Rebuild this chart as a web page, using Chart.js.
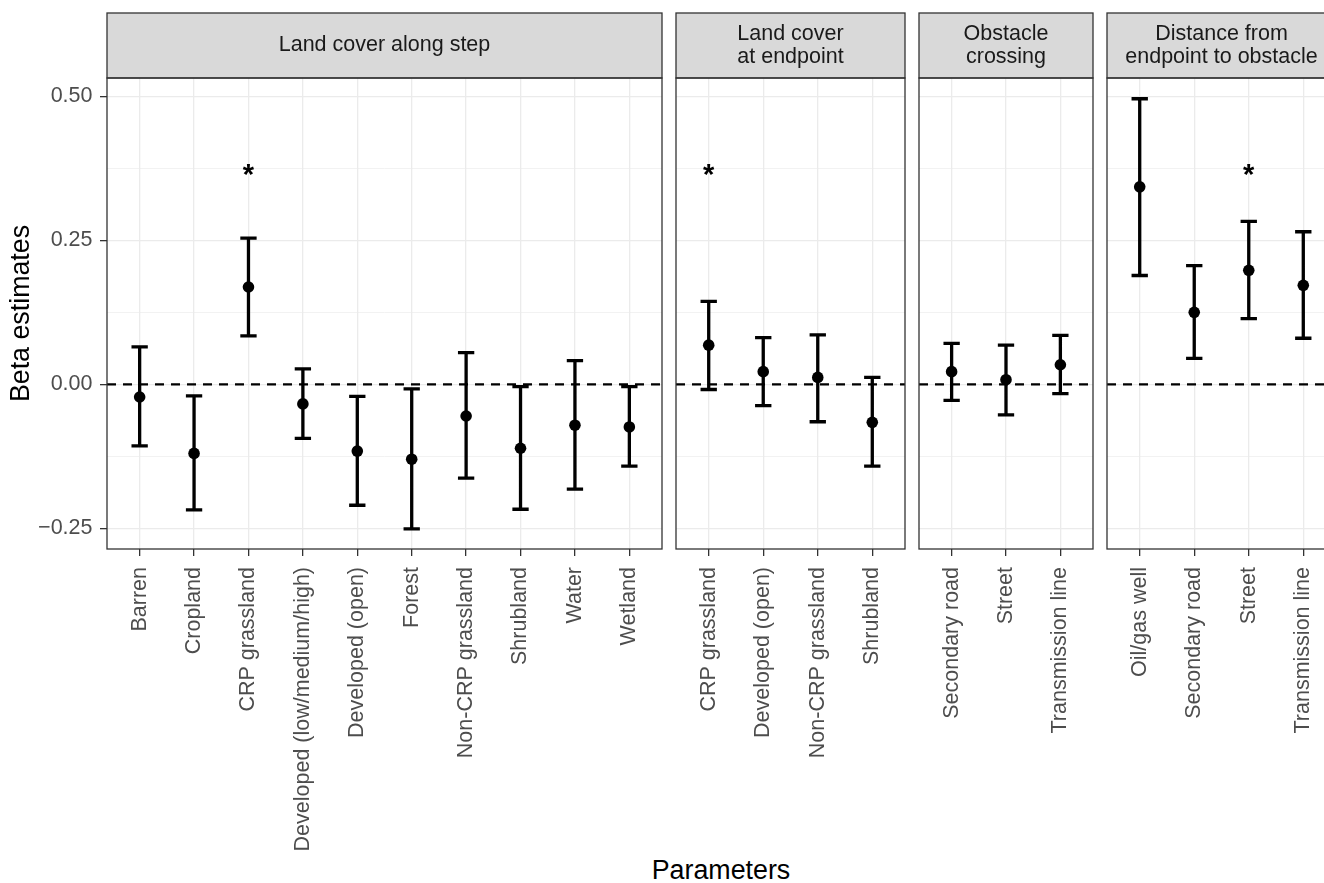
<!DOCTYPE html>
<html lang="en">
<head>
  <meta charset="UTF-8">
  <title>Beta estimates by parameter</title>
  <script src="https://cdn.jsdelivr.net/npm/chart.js@4"></script>
  <style>
    html, body {
      margin: 0;
      padding: 0;
      background: #fff;
      overflow: hidden;
    }
    body {
      width: 1324px;
      height: 883px;
      position: relative;
      font-family: 'Liberation Sans', Arial, sans-serif;
    }
    canvas.panel {
      position: absolute;
      top: 0;
    }
    /* x axis title shared by all panels */
    #xTitle {
      position: absolute;
      left: 521px;
      width: 400px;
      top: 855px;
      text-align: center;
      font-size: 26.8px;
      line-height: 30px;
      color: #000;
    }
  </style>
</head>
<body>

  <div id="xTitle">Parameters</div>

  <script>
    // ---- data ----
    const stepLabels = ['Barren', 'Cropland', 'CRP grassland', 'Developed (low/medium/high)', 'Developed (open)',
                        'Forest', 'Non-CRP grassland', 'Shrubland', 'Water', 'Wetland'];
    const stepEst = [-0.022, -0.120, 0.169, -0.034, -0.116, -0.130, -0.055, -0.111, -0.071, -0.074];
    const stepLo  = [-0.107, -0.218, 0.084, -0.094, -0.210, -0.251, -0.163, -0.217, -0.182, -0.142];
    const stepHi  = [ 0.065, -0.020, 0.254,  0.027, -0.021, -0.008,  0.055, -0.004,  0.041, -0.004];
    const stepSig = [false, false, true, false, false, false, false, false, false, false];

    const endLabels = ['CRP grassland', 'Developed (open)', 'Non-CRP grassland', 'Shrubland'];
    const endEst = [0.068, 0.022, 0.012, -0.066];
    const endLo  = [-0.009, -0.037, -0.065, -0.142];
    const endHi  = [0.144, 0.081, 0.086, 0.012];
    const endSig = [true, false, false, false];

    const crossLabels = ['Secondary road', 'Street', 'Transmission line'];
    const crossEst = [0.022, 0.008, 0.034];
    const crossLo  = [-0.028, -0.053, -0.016];
    const crossHi  = [0.071, 0.068, 0.085];
    const crossSig = [false, false, false];

    const distLabels = ['Oil/gas well', 'Secondary road', 'Street', 'Transmission line'];
    const distEst = [0.343, 0.125, 0.198, 0.172];
    const distLo  = [0.189, 0.045, 0.114, 0.080];
    const distHi  = [0.496, 0.206, 0.283, 0.265];
    const distSig = [false, false, true, false];

    const starY = 0.372;         // height of the significance marks
    const yMajor = [-0.25, 0, 0.25, 0.5];
    const yMajorLabels = ['\u22120.25', '0.00', '0.25', '0.50'];
    const yMinor = [-0.125, 0.125, 0.375];
    const yMin = -0.286, yMax = 0.532;

    // ---- look ----
    const FONT = "'Liberation Sans', Arial, sans-serif";
    Chart.defaults.font.family = FONT;
    const TEXT_SIZE = 21.5;
    const CANVAS_H = 883;
    const capWidth = 0.3;        // errorbar cap width in category units

    function isMajor(v) {
      return yMajor.some(m => Math.abs(m - v) < 1e-9);
    }

    // errorbars, stars, strip box and panel border for one panel
    function decor(lo, hi, sig) {
      return {
        id: 'decor',
        beforeDraw(chart) {
          const {ctx, chartArea} = chart;
          const t = chart.titleBlock;
          ctx.save();
          ctx.fillStyle = '#D9D9D9';
          ctx.fillRect(chartArea.left, t.top, chartArea.right - chartArea.left, t.bottom - t.top);
          ctx.restore();
        },
        beforeDatasetDraw(chart, args) {
          if (args.index !== 0) return;
          const {ctx, scales: {x, y}} = chart;
          ctx.save();
          ctx.strokeStyle = '#000';
          ctx.lineWidth = 3.3;
          ctx.beginPath();
          lo.forEach((l, i) => {
            const px = x.getPixelForValue(i);
            const x0 = x.getPixelForValue(i - capWidth / 2);
            const x1 = x.getPixelForValue(i + capWidth / 2);
            const yl = y.getPixelForValue(l);
            const yh = y.getPixelForValue(hi[i]);
            ctx.moveTo(px, yl); ctx.lineTo(px, yh);
            ctx.moveTo(x0, yl); ctx.lineTo(x1, yl);
            ctx.moveTo(x0, yh); ctx.lineTo(x1, yh);
          });
          ctx.stroke();
          ctx.restore();
        },
        afterDatasetsDraw(chart) {
          const {ctx, scales: {x, y}} = chart;
          ctx.save();
          ctx.fillStyle = '#000';
          ctx.font = 'bold 29px ' + FONT;
          ctx.textAlign = 'center';
          ctx.textBaseline = 'alphabetic';
          const m = ctx.measureText('*');
          const shift = (m.actualBoundingBoxAscent - m.actualBoundingBoxDescent) / 2;
          sig.forEach((s, i) => {
            if (!s) return;
            ctx.fillText('*', x.getPixelForValue(i), y.getPixelForValue(starY) + shift);
          });
          ctx.restore();
        },
        afterDraw(chart) {
          const {ctx, chartArea} = chart;
          const t = chart.titleBlock;
          ctx.save();
          ctx.strokeStyle = '#333333';
          ctx.lineWidth = 1.3;
          ctx.strokeRect(chartArea.left, t.top, chartArea.right - chartArea.left, t.bottom - t.top);
          ctx.strokeRect(chartArea.left, chartArea.top, chartArea.right - chartArea.left, chartArea.bottom - chartArea.top);
          ctx.restore();
        }
      };
    }

    function makePanel(p) {
      const canvas = document.createElement('canvas');
      canvas.className = 'panel';
      canvas.width = p.width;
      canvas.height = CANVAS_H;
      canvas.style.left = p.left + 'px';
      document.body.appendChild(canvas);

      const n = p.labels.length;
      const lh = 1.05;
      const titlePad = (65 - p.title.length * TEXT_SIZE * lh) / 2;

      new Chart(canvas, {
        type: 'scatter',
        data: {
          datasets: [
            {
              data: p.est.map((v, i) => ({x: i, y: v})),
              pointRadius: 5.8,
              pointBackgroundColor: '#000',
              pointBorderWidth: 0
            },
            {
              type: 'line',
              data: [{x: -0.6, y: 0}, {x: n - 0.4, y: 0}],
              borderColor: '#000',
              borderWidth: 2.2,
              borderDash: [9, 7],
              pointRadius: 0
            }
          ]
        },
        options: {
          responsive: false,
          animation: false,
          events: [],
          layout: {padding: {left: p.padL, right: 10, top: 13, bottom: 0}},
          plugins: {
            legend: {display: false},
            tooltip: {enabled: false},
            title: {
              display: true,
              text: p.title,
              fullSize: false,
              color: '#1A1A1A',
              font: {size: TEXT_SIZE, weight: 'normal', lineHeight: lh},
              padding: {top: titlePad, bottom: titlePad}
            }
          },
          scales: {
            x: {
              type: 'linear',
              min: -0.6,
              max: n - 0.4,
              afterBuildTicks: s => { s.ticks = p.labels.map((c, i) => ({value: i})); },
              afterFit: s => { s.height = CANVAS_H - 549; },
              border: {display: false},
              grid: {color: '#EBEBEB', lineWidth: 1.3, tickColor: '#333333', tickLength: 7, tickWidth: 1.3},
              ticks: {
                callback: v => p.labels[v],
                autoSkip: false,
                minRotation: 90,
                maxRotation: 90,
                padding: 11,
                color: '#4D4D4D',
                font: {size: TEXT_SIZE}
              }
            },
            y: {
              min: yMin,
              max: yMax,
              afterBuildTicks: s => {
                s.ticks = yMajor.concat(yMinor).sort((a, b) => a - b).map(v => ({value: v}));
              },
              afterFit: s => { s.width = p.showY ? 107 : 0; },
              border: {display: false},
              grid: {
                color: '#EBEBEB',
                lineWidth: c => isMajor(c.tick.value) ? 1.3 : 0.65,
                drawTicks: p.showY,
                tickColor: c => isMajor(c.tick.value) ? '#333333' : 'rgba(0,0,0,0)',
                tickLength: 7,
                tickWidth: 1.3
              },
              ticks: {
                display: p.showY,
                padding: 7.5,
                color: '#4D4D4D',
                font: {size: TEXT_SIZE},
                callback: v => {
                  const k = yMajor.findIndex(m => Math.abs(m - v) < 1e-9);
                  return k < 0 ? '' : yMajorLabels[k];
                }
              },
              title: {
                display: p.showY,
                text: 'Beta estimates',
                color: '#000',
                font: {size: 26.8},
                padding: {top: 6, bottom: 0}
              }
            }
          }
        },
        plugins: [decor(p.lo, p.hi, p.sig)]
      });
    }

    makePanel({left: 0, width: 672, padL: 0, showY: true, title: ['Land cover along step'],
               labels: stepLabels, est: stepEst, lo: stepLo, hi: stepHi, sig: stepSig});
    makePanel({left: 666, width: 249, padL: 10, showY: false, title: ['Land cover', 'at endpoint'],
               labels: endLabels, est: endEst, lo: endLo, hi: endHi, sig: endSig});
    makePanel({left: 909, width: 194, padL: 10, showY: false, title: ['Obstacle', 'crossing'],
               labels: crossLabels, est: crossEst, lo: crossLo, hi: crossHi, sig: crossSig});
    makePanel({left: 1097, width: 249, padL: 10, showY: false, title: ['Distance from', 'endpoint to obstacle'],
               labels: distLabels, est: distEst, lo: distLo, hi: distHi, sig: distSig});
  </script>

</body>
</html>
